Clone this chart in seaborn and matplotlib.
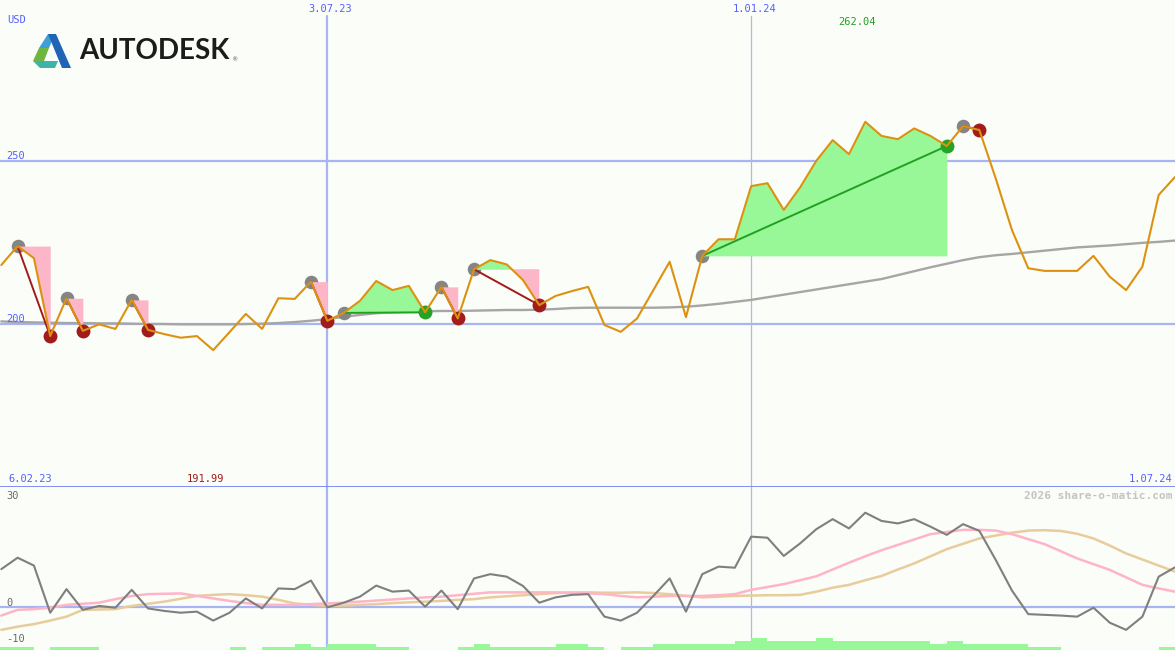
import numpy as np
import pandas as pd
import seaborn as sns
import matplotlib
matplotlib.use("Agg")
import matplotlib.pyplot as plt
import matplotlib.transforms as mtrans
from matplotlib.patches import Polygon

# ---------------- data (weekly, week 0 = 6.02.23, week 73 = 1.07.24) ----------------
price = [218.1, 223.9, 220.2, 196.3, 207.9, 197.9, 199.9, 198.5, 207.4, 198.2,
         196.9, 195.8, 196.3, 191.99, 197.5, 203.1, 198.5, 207.9, 207.7, 213.0,
         201.0, 203.4, 207.1, 213.2, 210.4, 211.7, 203.6, 211.4, 201.7, 216.8,
         219.6, 218.3, 213.5, 205.8, 208.6, 210.1, 211.4, 199.7, 197.6, 201.7,
         210.4, 219.1, 202.1, 220.9, 226.0, 226.0, 242.3, 243.2, 235.0, 241.9,
         250.1, 256.4, 252.1, 262.04, 257.7, 256.7, 260.0, 257.7, 254.6, 260.7,
         259.5, 244.7, 228.8, 217.1, 216.3, 216.3, 216.3, 220.9, 214.5, 210.4,
         217.6, 239.6, 245.1]

moving_avg = [200.8, 200.6, 200.5, 200.4, 200.3, 200.3, 200.2, 200.2,
              200.1, 200.0, 200.0, 199.9, 199.9, 199.9, 199.9, 200.0, 200.1, 200.3,
              200.6, 201.0, 201.5, 202.2, 202.8, 203.3, 203.6,
              203.8, 203.9, 204.0, 204.0, 204.1, 204.2, 204.3, 204.3, 204.4, 204.6,
              204.9, 205.0, 205.0, 205.0, 205.0, 205.0, 205.1, 205.3,
              205.7, 206.2, 206.8, 207.4,
              208.2, 209.0, 209.8, 210.6, 211.4, 212.2, 213.0, 213.8,
              215.0, 216.2, 217.4, 218.5, 219.6, 220.5,
              221.1, 221.5, 222.0, 222.5, 223.0,
              223.5, 223.8, 224.1, 224.5, 224.9, 225.2, 225.6]

oscillator = [10.6, 13.8, 11.6, -1.6, 5.0, -0.8, 0.3, -0.2, 4.8, -0.4,
              -1.1, -1.6, -1.3, -3.8, -1.6, 2.4, -0.4, 5.2, 5.0, 7.4,
              -0.1, 1.2, 2.9, 6.0, 4.3, 4.6, 0.1, 4.6, -0.6, 8.0,
              9.2, 8.5, 5.9, 1.2, 2.7, 3.4, 3.6, -2.7, -3.8, -1.6,
              3.1, 8.0, -1.3, 9.2, 11.3, 11.0, 19.7, 19.4, 14.3, 17.8,
              21.8, 24.6, 22.0, 26.4, 24.1, 23.4, 24.6, 22.5, 20.2, 23.2,
              21.3, 13.2, 4.6, -2.0, -2.2, -2.4, -2.7, -0.2, -4.4, -6.4,
              -2.7, 8.5, 11.1]

signal_fast = [-2.4, -0.8, -0.6, -0.2, 0.6, 0.9, 1.2, 2.2, 3.1, 3.6,
               3.7, 3.8, 3.1, 2.4, 1.7, 1.1, 0.6, 0.6, 0.6, 0.8,
               1.0, 1.2, 1.5, 1.8, 2.1, 2.4, 2.7, 2.9, 3.3, 3.7,
               4.1, 4.1, 4.1, 4.1, 4.1, 3.9, 3.8, 3.6, 3.1, 2.7,
               2.9, 3.1, 3.1, 3.1, 3.3, 3.6, 4.8, 5.6, 6.4, 7.5,
               8.6, 10.5, 12.4, 14.2, 15.9, 17.4, 18.9, 20.4, 21.0, 21.6,
               21.6, 21.4, 20.4, 19.0, 17.6, 15.6, 13.6, 12.0, 10.4, 8.3,
               6.2, 5.2, 4.3]

signal_slow = [-6.4, -5.5, -4.8, -3.8, -2.7, -0.8, -0.7, -0.6, 0.3, 0.9,
               1.5, 2.3, 3.1, 3.4, 3.6, 3.3, 2.9, 2.0, 1.0, 0.6,
               0.3, 0.4, 0.6, 0.8, 1.1, 1.3, 1.5, 1.7, 2.0, 2.2,
               2.7, 3.0, 3.3, 3.6, 3.9, 4.1, 4.1, 4.0, 4.0, 4.1,
               3.9, 3.6, 3.1, 2.7, 2.9, 3.1, 3.2, 3.3, 3.3, 3.4,
               4.3, 5.4, 6.2, 7.5, 8.7, 10.5, 12.2, 14.2, 16.2, 17.7,
               19.2, 20.0, 20.8, 21.4, 21.5, 21.3, 20.5, 19.2, 17.2, 15.0,
               13.3, 11.6, 9.9]

# strength bars, weeks 0..72 (levels)
bar_level = [1, 1, 1, 0, 1, 1, 1, 0, 0, 0, 0, 0, 0, 0, 0, 1, 0, 1, 1, 2,
             1, 2, 2, 2, 1, 1, 0, 0, 0, 1, 2, 1, 1, 1, 1, 2, 2, 1, 0, 1,
             1, 2, 2, 2, 2, 2, 3, 4, 3, 3, 3, 4, 3, 3, 3, 3, 3, 3, 2, 3,
             2, 2, 2, 2, 1, 1, 0, 0, 0, 0, 0, 0, 1]

# trades (week of entry, week of exit)
trade_entry = [2, 5, 9, 20, 22, 28, 30, 44, 60]
trade_exit = [4, 6, 10, 21, 27, 29, 34, 59, 61]

date_ticks = {0: "6.02.23", 21: "3.07.23", 47: "1.01.24", 73: "1.07.24"}
price_ticks = [250, 200]
osc_ticks = [30, 0, -10]

weeks = np.arange(1, len(price) + 1)
price_s = pd.Series(price, index=weeks)

# ---------------- style ----------------
W, H = 1175, 650
BG = "#fbfdf8"
sns.set_theme(style="white")
plt.rcParams["font.family"] = ["DejaVu Sans Mono", "DejaVu Sans"]

fig = plt.figure(figsize=(W / 100, H / 100), dpi=100, facecolor=BG)
ax1 = fig.add_axes([0, 163 / H, 1, 487 / H])
ax2 = fig.add_axes([0, 0, 1, 163 / H])
XL = (0.92, 73.0)
for ax in (ax1, ax2):
    ax.set_facecolor(BG)
    ax.set_xlim(*XL)
    for s in ax.spines.values():
        s.set_visible(False)
    ax.set_xticks([])
    ax.set_yticks([])
ax1.set_ylim(150.0, 299.4)
ax2.set_ylim(-12.04, 33.6)

GRID = "#a9b5f3"
TXT = "#5560ff"

# grid lines
for v in price_ticks:
    ax1.axhline(v, color=GRID, lw=1.6, zorder=0.5)
ax2.axhline(0, color=GRID, lw=1.6, zorder=0.5)
ax1.axvline(21, ymin=0, ymax=(487 - 16) / 487, color=GRID, lw=1.6, zorder=0.5)
ax2.axvline(21, color=GRID, lw=1.6, zorder=0.5)
ax1.axvline(47, ymin=0, ymax=(487 - 16) / 487, color="#b3b8dc", lw=0.9, zorder=0.5)
ax2.axvline(47, color="#b3b8dc", lw=0.9, zorder=0.5)
ax1.axhline(150.0, color="#7484f2", lw=2.0, zorder=5, clip_on=False)

# moving average
sns.lineplot(x=weeks, y=moving_avg, ax=ax1, color="#a6a6a6", lw=1.7,
             estimator=None, sort=False, zorder=1)

# trades: fills, connectors, markers
for e, x in zip(trade_entry, trade_exit):
    seg = price_s.loc[e:x]
    lvl = price_s[e]
    xs = seg.index.values.astype(float)
    ys = seg.values
    ax1.fill_between(xs, lvl, ys, where=ys >= lvl, interpolate=True,
                     color="#98f898", lw=0, zorder=2)
    ax1.fill_between(xs, lvl, ys, where=ys <= lvl, interpolate=True,
                     color="#fdb6c8", lw=0, zorder=2)
    win = price_s[x] >= lvl
    sns.lineplot(x=[e, x], y=[lvl, price_s[x]], ax=ax1,
                 color="#22a022" if win else "#a21a1a", lw=1.4,
                 estimator=None, sort=False, zorder=2.6)
    sns.scatterplot(x=[e], y=[lvl], ax=ax1, color="#858585", s=95,
                    linewidth=0, zorder=1.5)
    sns.scatterplot(x=[x], y=[price_s[x]], ax=ax1,
                    color="#26a226" if win else "#a31c1c", s=100,
                    linewidth=0, zorder=2.7)

# price line
sns.lineplot(x=weeks, y=price, ax=ax1, color="#dc9210", lw=1.5,
             estimator=None, sort=False, zorder=3)

# lower panel
bar_w = np.arange(0, len(bar_level))
ax2.bar(bar_w, np.array(bar_level) * 0.84, bottom=-12.04, width=1.0,
        align="edge", color="#98f898", lw=0, zorder=1)
sns.lineplot(x=weeks, y=signal_slow, ax=ax2, color="#e8cc9c", lw=1.8,
             estimator=None, sort=False, zorder=2)
sns.lineplot(x=weeks, y=signal_fast, ax=ax2, color="#ffb4c8", lw=1.8,
             estimator=None, sort=False, zorder=2.1)
sns.lineplot(x=weeks, y=oscillator, ax=ax2, color="#7f7f7f", lw=1.5,
             estimator=None, sort=False, zorder=3)
for a in (ax1, ax2):
    if a.get_legend():
        a.get_legend().remove()

# ---------------- texts ----------------
def ftxt(x, y, s, **kw):
    kw.setdefault("fontsize", 7.5)
    kw.setdefault("va", "center")
    fig.text(x / W, 1 - y / H, s, **kw)

ftxt(7, 20, "USD", color=TXT)
for v in price_ticks:
    yp = 324 - (v - 200) * 3.26
    ftxt(6, yp - 5, str(v), color=TXT)
for v in osc_ticks:
    yp = 607 - v * 3.57
    ftxt(6, yp - 4, str(v), color="#6a6a6a")

blend1 = mtrans.blended_transform_factory(ax1.transData, fig.transFigure)
for wk, lab in date_ticks.items():
    if wk in (21, 47):
        ax1.text(wk + 0.2, 1 - 9 / H, lab, transform=blend1, ha="center",
                 va="center", fontsize=7.5, color=TXT)
ftxt(8, 479, date_ticks[0], color=TXT)
ftxt(1172, 479, date_ticks[73], color=TXT, ha="right")

imax = int(price_s.idxmax())
imin = int(price_s.idxmin())
ax1.text(imax - 0.5, 1 - 22 / H, f"{price_s.max():.2f}", transform=blend1,
         ha="center", va="center", fontsize=7.5, color="#22a022")
ax1.text(imin - 0.5, 1 - 479 / H, f"{price_s.min():.2f}", transform=blend1,
         ha="center", va="center", fontsize=7.5, color="#a21a1a")
ftxt(1172, 496, "2026 share-o-matic.com", color="#c4c4c4", ha="right",
     fontweight="bold", fontsize=8)

# ---------------- logo ----------------
def P(pts):
    return [(x / W, 1 - y / H) for x, y in pts]

for pts, col in [
    ([(33, 61), (44, 61), (49, 48), (39, 48)], "#6fb640"),
    ([(39, 48), (49, 48), (55, 34), (48, 34)], "#3d9fd8"),
    ([(48, 34), (56, 34), (71, 68), (62, 68)], "#2163b4"),
    ([(33, 61), (58, 61), (55, 68), (40, 68)], "#3fb3a6"),
]:
    fig.add_artist(Polygon(P(pts), closed=True, transform=fig.transFigure,
                           facecolor=col, edgecolor="none"))
fig.text(79 / W, 1 - 51 / H, "AUTODESK", fontsize=20, fontweight="bold",
         family=["Lato", "DejaVu Sans"], color="#1c1c1c", va="center", ha="left")
fig.text(231 / W, 1 - 60 / H, "®", fontsize=4.5, family=["DejaVu Sans"],
         color="#555555", va="center")

fig.savefig("out.png", dpi=100, facecolor=BG)
